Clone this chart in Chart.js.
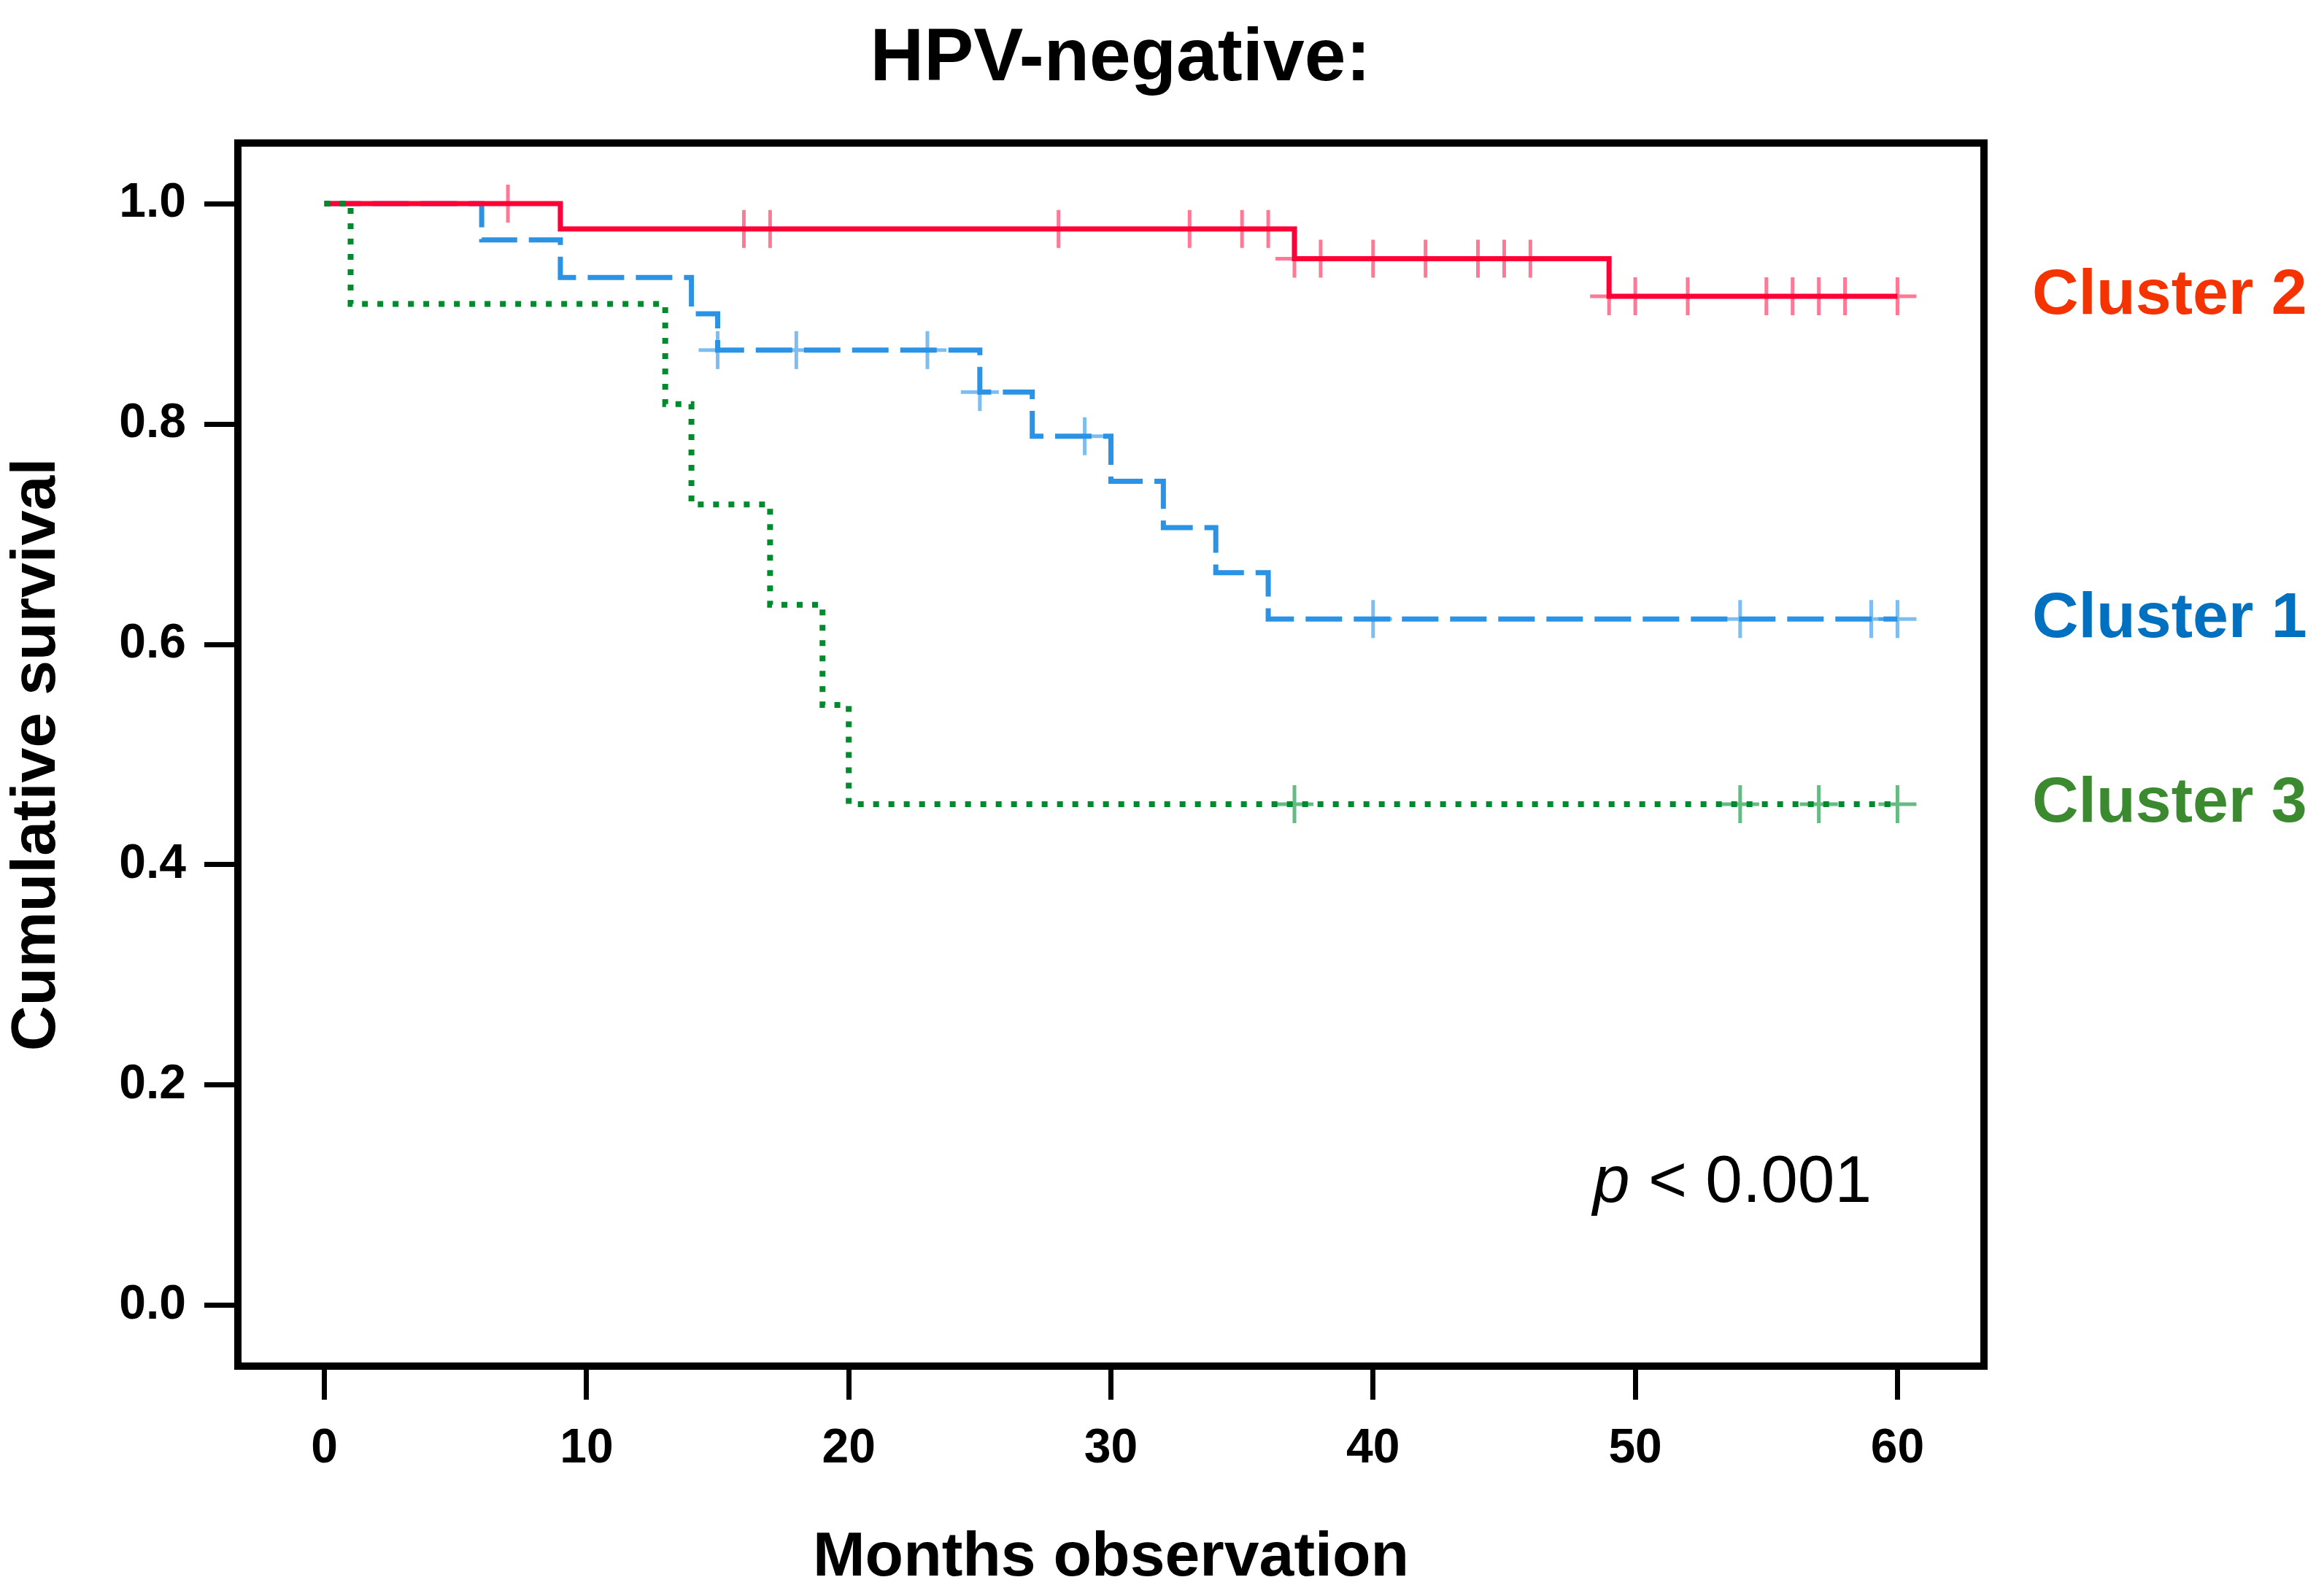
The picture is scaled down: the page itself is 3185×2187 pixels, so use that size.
<!DOCTYPE html>
<html lang="en">
<head>
    <meta charset="UTF-8">
    <title>HPV-negative: cumulative survival by cluster</title>
    <script src="https://cdn.jsdelivr.net/npm/chart.js"></script>
    <style>
        html, body {
            margin: 0;
            padding: 0;
            background-color: #ffffff;
        }
        .chart-container {
            position: relative;
            width: 3185px;
            height: 2187px;
        }
    </style>
</head>
<body>
    <div class="chart-container">
        <canvas id="kmChart"></canvas>
    </div>

    <script>
        const chartTitle = 'HPV-negative:';
        const xTicks = [0, 10, 20, 30, 40, 50, 60];
        const yTicks = [0.0, 0.2, 0.4, 0.6, 0.8, 1.0];

        // Cluster 1 (blue, dashed): event times and survival after each step
        const c1Months = [0, 6, 9, 14, 15, 25, 27, 30, 32, 34, 36, 60];
        const c1Surv = [1.0, 0.967, 0.933, 0.900, 0.867, 0.829, 0.789, 0.748, 0.706, 0.665, 0.623, 0.623];
        const c1Censored = [15, 18, 23, 25, 29, 40, 54, 59, 60];

        // Cluster 2 (red, solid)
        const c2Months = [0, 9, 37, 49, 60];
        const c2Surv = [1.0, 0.977, 0.950, 0.916, 0.916];
        const c2Censored = [7, 16, 17, 28, 33, 35, 36, 37, 38, 40, 42, 44, 45, 46, 49, 50, 52, 55, 56, 57, 58, 60];

        // Cluster 3 (green, dotted)
        const c3Months = [0, 1, 13, 14, 17, 19, 20, 60];
        const c3Surv = [1.0, 0.909, 0.818, 0.727, 0.636, 0.545, 0.455, 0.455];
        const c3Censored = [37, 54, 57, 60];

        const clusterNames = ['Cluster 2', 'Cluster 1', 'Cluster 3'];
        const clusterColors = ['#f53300', '#0070c0', '#3b8a2f'];
        const clusterEnds = [c2Surv[c2Surv.length - 1], c1Surv[c1Surv.length - 1], c3Surv[c3Surv.length - 1]];

        const fontFamily = '"Liberation Sans", Arial, Helvetica, sans-serif';

        // survival level in force at month t
        function survivalAt(months, surv, t) {
            let s = surv[0];
            for (let i = 0; i < months.length; i++) {
                if (months[i] <= t) s = surv[i];
            }
            return s;
        }

        function stepLine(label, months, surv, color, dash, width, order) {
            return {
                label: label,
                data: months.map((m, i) => ({ x: m, y: surv[i] })),
                showLine: true,
                stepped: true,
                borderColor: color,
                borderWidth: width,
                borderDash: dash,
                borderCapStyle: 'butt',
                borderJoinStyle: 'miter',
                pointRadius: 0,
                fill: false,
                order: order
            };
        }

        function censorMarks(label, months, surv, censored, color, order) {
            return {
                label: label,
                data: censored.map(t => ({ x: t, y: survivalAt(months, surv, t) })),
                showLine: false,
                pointStyle: 'cross',
                pointRadius: 26,
                pointBorderWidth: 5,
                pointBorderColor: color,
                borderColor: color,
                order: order
            };
        }

        // frame, title, cluster labels and p-value
        const annotationsPlugin = {
            id: 'kmAnnotations',
            afterDraw(chart) {
                const ctx = chart.ctx;
                const a = chart.chartArea;
                const y = chart.scales.y;
                ctx.save();
                ctx.lineWidth = 10;
                ctx.strokeStyle = '#000';
                ctx.strokeRect(a.left, a.top, a.right - a.left, a.bottom - a.top);

                ctx.fillStyle = '#000';
                ctx.font = 'bold 102px ' + fontFamily;
                ctx.textAlign = 'center';
                ctx.textBaseline = 'alphabetic';
                ctx.fillText(chartTitle, (a.left + a.right) / 2 + 13, 110);

                ctx.font = 'bold 88px ' + fontFamily;
                ctx.textAlign = 'left';
                ctx.textBaseline = 'middle';
                clusterNames.forEach((name, i) => {
                    ctx.fillStyle = clusterColors[i];
                    ctx.fillText(name, a.right + 66, y.getPixelForValue(clusterEnds[i]));
                });

                ctx.fillStyle = '#000';
                ctx.textBaseline = 'alphabetic';
                const px = a.right - 536;
                const py = a.bottom - 225;
                ctx.font = 'italic 91px ' + fontFamily;
                ctx.fillText('p', px, py);
                const pw = ctx.measureText('p').width;
                ctx.font = '91px ' + fontFamily;
                ctx.fillText(' < 0.001', px + pw, py);
                ctx.restore();
            }
        };

        function createChart() {
            const ctx = document.getElementById('kmChart').getContext('2d');
            new Chart(ctx, {
                type: 'scatter',
                data: {
                    datasets: [
                        stepLine('Cluster 3', c3Months, c3Surv, '#008a2e', [8, 13], 8, 1),
                        stepLine('Cluster 2', c2Months, c2Surv, '#ff0036', [], 7, 2),
                        stepLine('Cluster 1', c1Months, c1Surv, '#2a93e5', [50, 16], 7, 3),
                        censorMarks('Cluster 3 censored', c3Months, c3Surv, c3Censored, 'rgba(0, 140, 50, 0.6)', 1),
                        censorMarks('Cluster 2 censored', c2Months, c2Surv, c2Censored, 'rgba(255, 30, 80, 0.6)', 2),
                        censorMarks('Cluster 1 censored', c1Months, c1Surv, c1Censored, 'rgba(40, 145, 230, 0.6)', 3)
                    ]
                },
                options: {
                    responsive: true,
                    maintainAspectRatio: false,
                    devicePixelRatio: 1,
                    animation: false,
                    events: [],
                    layout: {
                        padding: { top: 196, right: 466, left: 0, bottom: 0 }
                    },
                    scales: {
                        x: {
                            type: 'linear',
                            min: -3.3,
                            max: 63.3,
                            afterBuildTicks: s => { s.ticks = xTicks.map(v => ({ value: v })); },
                            afterFit: s => { s.height = 315; },
                            grid: {
                                drawOnChartArea: false,
                                drawTicks: true,
                                tickLength: 46,
                                tickWidth: 7,
                                tickColor: '#000'
                            },
                            border: { display: false },
                            ticks: {
                                color: '#000',
                                padding: 28,
                                font: { family: fontFamily, size: 66, weight: 'bold' }
                            },
                            title: {
                                display: true,
                                text: 'Months observation',
                                color: '#000',
                                padding: { top: 0, bottom: 0 },
                                font: { family: fontFamily, size: 86, weight: 'bold' }
                            }
                        },
                        y: {
                            type: 'linear',
                            min: -0.055,
                            max: 1.055,
                            afterBuildTicks: s => { s.ticks = yTicks.map(v => ({ value: v })); },
                            afterFit: s => { s.width = 326; },
                            grid: {
                                drawOnChartArea: false,
                                drawTicks: true,
                                tickLength: 46,
                                tickWidth: 7,
                                tickColor: '#000'
                            },
                            border: { display: false },
                            ticks: {
                                color: '#000',
                                padding: 25,
                                callback: v => v.toFixed(1),
                                font: { family: fontFamily, size: 66, weight: 'bold' }
                            },
                            title: {
                                display: true,
                                text: 'Cumulative survival',
                                color: '#000',
                                padding: { top: 0, bottom: 0 },
                                font: { family: fontFamily, size: 86, weight: 'bold' }
                            }
                        }
                    },
                    plugins: {
                        legend: { display: false },
                        tooltip: { enabled: false },
                        title: { display: false }
                    }
                },
                plugins: [annotationsPlugin]
            });
        }

        document.addEventListener('DOMContentLoaded', createChart);
    </script>
</body>
</html>
